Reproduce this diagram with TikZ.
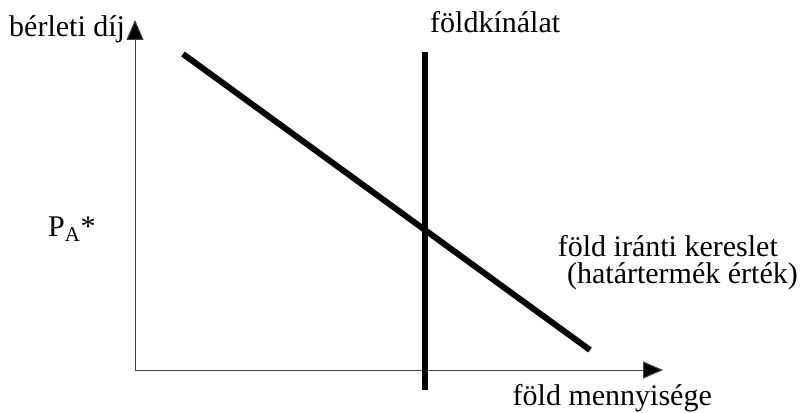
\documentclass[tikz,border=0pt]{standalone}
\usepackage{fontspec}
\setmainfont{Liberation Serif}
\usetikzlibrary{arrows.meta}
\begin{document}
\begin{tikzpicture}[x=1pt,y=-1pt,
  axis/.style={draw=black!75,line width=1pt,-{Triangle[length=20pt,width=17pt,fill=black]}},
  curve/.style={draw=black,line width=6pt},
  lbl/.style={inner sep=0pt,font=\fontsize{30}{34}\selectfont}]
\useasboundingbox (0,0) rectangle (802,412);
\coordinate (O) at (135,370);
\coordinate (Ytop) at (135,20);
\coordinate (Xend) at (663,370);
\coordinate (S1) at (425,52);
\coordinate (S2) at (425,390);
\coordinate (D1) at (183,54);
\coordinate (D2) at (590,350);
\draw[axis] (O) -- (Ytop);
\draw[axis] (O) -- (Xend);
\draw[curve] (S1) -- (S2);
\draw[curve] (D1) -- (D2);
\node[lbl,anchor=base west] (ylab) at (9,37) {bérleti díj};
\node[lbl,anchor=base west] (slab) at (430,33) {földkínálat};
\node[lbl,anchor=base west] (plab) at (48,236) {P\textsubscript{A}*};
\node[lbl,anchor=base east] (dlab1) at (778,256) {föld iránti kereslet};
\node[lbl,anchor=base east] (dlab2) at (798,283) {(határtermék érték)};
\node[lbl,anchor=base east] (xlab) at (712,405) {föld mennyisége};
\end{tikzpicture}
\end{document}
